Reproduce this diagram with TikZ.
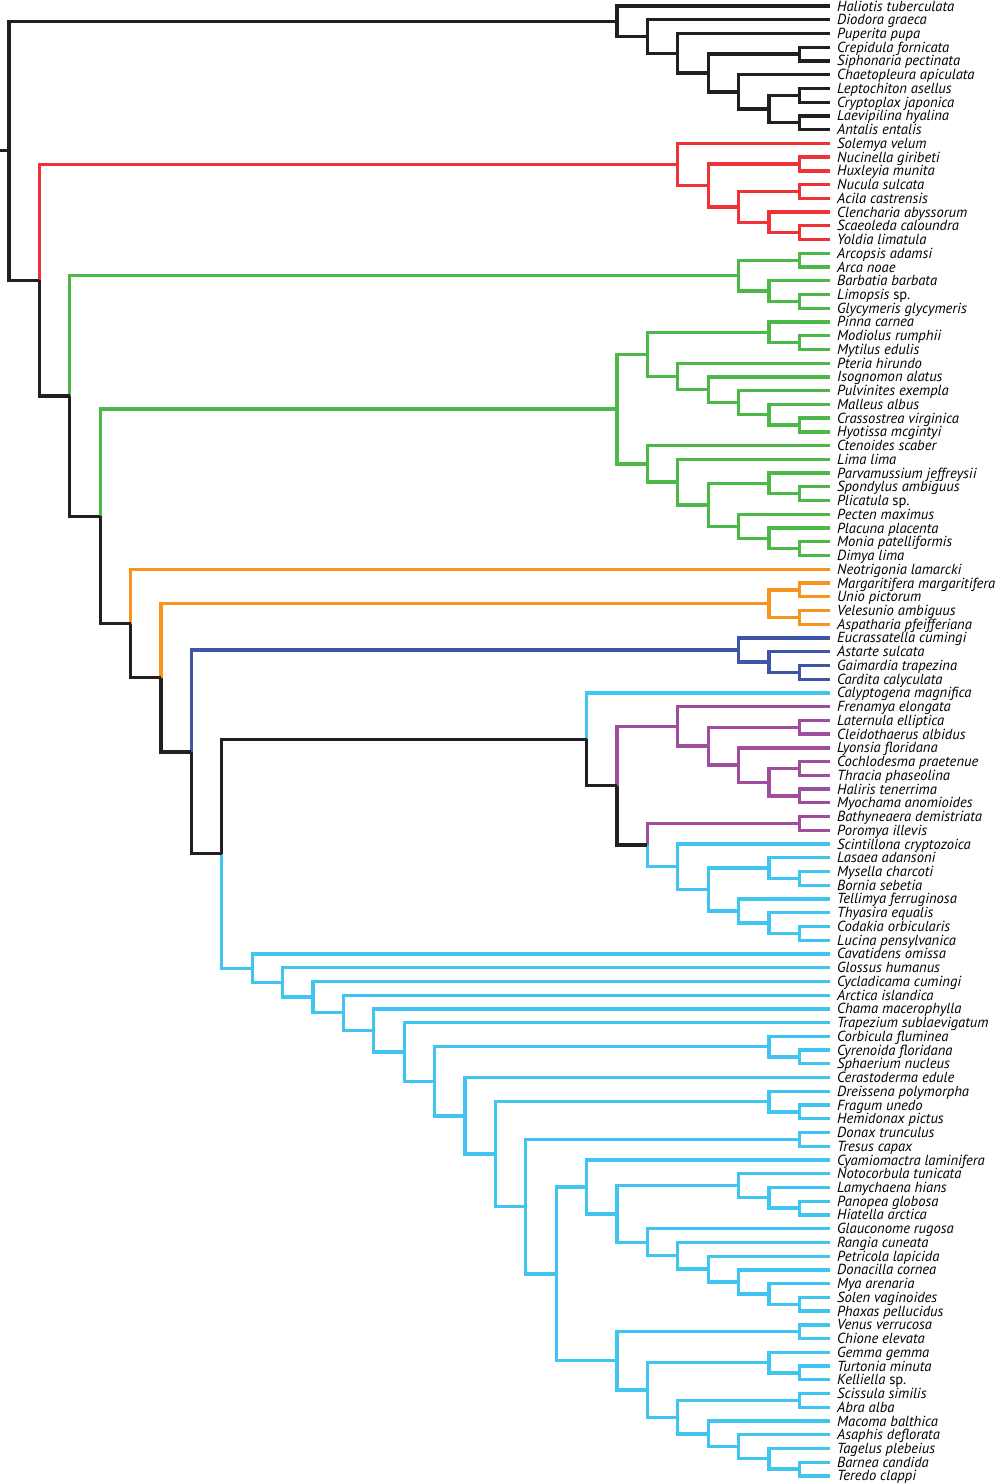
\documentclass[tikz,border=0pt]{standalone}
\usepackage{fontspec}
\setmainfont{PT Sans}
\usetikzlibrary{calc}
\definecolor{cblack}{HTML}{231F20}
\definecolor{cred}{HTML}{EE3237}
\definecolor{cgreen}{HTML}{4CB848}
\definecolor{corange}{HTML}{F7941E}
\definecolor{cblue}{HTML}{3F55A5}
\definecolor{ccyan}{HTML}{40C4F0}
\definecolor{cpurple}{HTML}{A14D9E}
\tikzset{
  br/.style={line width=3.3pt, line join=miter, line cap=butt},
  leaf/.style={font=\fontsize{14.6}{14.6}\selectfont\itshape, anchor=base west, inner sep=0pt, text=black}
}
\newcommand\mixclade[6]{%
  \path let \p1=(#3), \p2=(#5) in coordinate (#1) at ({9+30.4*#2},{0.5*(\y1+\y2)});
  \draw[br,#4] (#1) |- (#3);
  \draw[br,#6] (#1) |- (#5);
}
\newcommand\uniclade[5][cblack]{\mixclade{#2}{#3}{#4}{#1}{#5}{#1}}
\begin{document}
\begin{tikzpicture}[x=1pt,y=1pt]
\useasboundingbox (0,0) rectangle (1000,-1484);
\foreach \n [count=\i] in {Haliotis tuberculata, Diodora graeca, Puperita pupa, Crepidula fornicata, Siphonaria pectinata, Chaetopleura apiculata, Leptochiton asellus, Cryptoplax japonica, Laevipilina hyalina, Antalis entalis,
Solemya velum, Nucinella giribeti, Huxleyia munita, Nucula sulcata, Acila castrensis, Clencharia abyssorum, Scaeoleda caloundra, Yoldia limatula,
Arcopsis adamsi, Arca noae, Barbatia barbata, Limopsis \textup{sp.}, Glycymeris glycymeris, Pinna carnea, Modiolus rumphii, Mytilus edulis, Pteria hirundo, Isognomon alatus, Pulvinites exempla, Malleus albus, Crassostrea virginica, Hyotissa mcgintyi, Ctenoides scaber, Lima lima, Parvamussium jeffreysii, Spondylus ambiguus, Plicatula \textup{sp.}, Pecten maximus, Placuna placenta, Monia patelliformis, Dimya lima,
Neotrigonia lamarcki, Margaritifera margaritifera, Unio pictorum, Velesunio ambiguus, Aspatharia pfeifferiana,
Eucrassatella cumingi, Astarte sulcata, Gaimardia trapezina, Cardita calyculata,
Calyptogena magnifica, Frenamya elongata, Laternula elliptica, Cleidothaerus albidus, Lyonsia floridana, Cochlodesma praetenue, Thracia phaseolina, Haliris tenerrima, Myochama anomioides, Bathyneaera demistriata, Poromya illevis,
Scintillona cryptozoica, Lasaea adansoni, Mysella charcoti, Bornia sebetia, Tellimya ferruginosa, Thyasira equalis, Codakia orbicularis, Lucina pensylvanica,
Cavatidens omissa, Glossus humanus, Cycladicama cumingi, Arctica islandica, Chama macerophylla, Trapezium sublaevigatum, Corbicula fluminea, Cyrenoida floridana, Sphaerium nucleus, Cerastoderma edule, Dreissena polymorpha, Fragum unedo, Hemidonax pictus, Donax trunculus, Tresus capax, Cyamiomactra laminifera, Notocorbula tunicata, Lamychaena hians, Panopea globosa, Hiatella arctica, Glauconome rugosa, Rangia cuneata, Petricola lapicida, Donacilla cornea, Mya arenaria, Solen vaginoides, Phaxas pellucidus, Venus verrucosa, Chione elevata, Gemma gemma, Turtonia minuta, Kelliella \textup{sp.}, Scissula similis, Abra alba, Macoma balthica, Asaphis deflorata, Tagelus plebeius, Barnea candida, Teredo clappi}{
  \coordinate (l\i) at (830,{-6-13.738*(\i-1)});
  \node[leaf] (t\i) at ([xshift=7pt,yshift=-5pt]l\i) {\n};
}
% outgroup (black)
\uniclade{a26a}{26}{l4}{l5}
\uniclade{a26b}{26}{l7}{l8}
\uniclade{a26c}{26}{l9}{l10}
\uniclade{a25}{25}{a26b}{a26c}
\uniclade{a24}{24}{l6}{a25}
\uniclade{a23}{23}{a26a}{a24}
\uniclade{a22}{22}{l3}{a23}
\uniclade{a21}{21}{l2}{a22}
\uniclade{a20}{20}{l1}{a21}
% red
\uniclade[cred]{r26a}{26}{l12}{l13}
\uniclade[cred]{r26b}{26}{l14}{l15}
\uniclade[cred]{r26c}{26}{l17}{l18}
\uniclade[cred]{r25}{25}{l16}{r26c}
\uniclade[cred]{r24}{24}{r26b}{r25}
\uniclade[cred]{r23}{23}{r26a}{r24}
\uniclade[cred]{r22}{22}{l11}{r23}
% green 1
\uniclade[cgreen]{g26a}{26}{l19}{l20}
\uniclade[cgreen]{g26b}{26}{l22}{l23}
\uniclade[cgreen]{g25}{25}{l21}{g26b}
\uniclade[cgreen]{g24}{24}{g26a}{g25}
% green 2
\uniclade[cgreen]{h26a}{26}{l25}{l26}
\uniclade[cgreen]{h25a}{25}{l24}{h26a}
\uniclade[cgreen]{h26b}{26}{l31}{l32}
\uniclade[cgreen]{h25b}{25}{l30}{h26b}
\uniclade[cgreen]{h24}{24}{l29}{h25b}
\uniclade[cgreen]{h23}{23}{l28}{h24}
\uniclade[cgreen]{h22}{22}{l27}{h23}
\uniclade[cgreen]{h21}{21}{h25a}{h22}
\uniclade[cgreen]{i26a}{26}{l36}{l37}
\uniclade[cgreen]{i25a}{25}{l35}{i26a}
\uniclade[cgreen]{i26b}{26}{l40}{l41}
\uniclade[cgreen]{i25b}{25}{l39}{i26b}
\uniclade[cgreen]{i24}{24}{l38}{i25b}
\uniclade[cgreen]{i23}{23}{i25a}{i24}
\uniclade[cgreen]{i22}{22}{l34}{i23}
\uniclade[cgreen]{i21}{21}{l33}{i22}
\uniclade[cgreen]{h20}{20}{h21}{i21}
% orange
\uniclade[corange]{o26a}{26}{l43}{l44}
\uniclade[corange]{o26b}{26}{l45}{l46}
\uniclade[corange]{o25}{25}{o26a}{o26b}
% blue
\uniclade[cblue]{b26}{26}{l49}{l50}
\uniclade[cblue]{b25}{25}{l48}{b26}
\uniclade[cblue]{b24}{24}{l47}{b25}
% purple
\uniclade[cpurple]{p26a}{26}{l53}{l54}
\uniclade[cpurple]{p26b}{26}{l56}{l57}
\uniclade[cpurple]{p26c}{26}{l58}{l59}
\uniclade[cpurple]{p25}{25}{p26b}{p26c}
\uniclade[cpurple]{p24}{24}{l55}{p25}
\uniclade[cpurple]{p23}{23}{p26a}{p24}
\uniclade[cpurple]{p22}{22}{l52}{p23}
\uniclade[cpurple]{q26}{26}{l60}{l61}
% cyan small
\uniclade[ccyan]{m26a}{26}{l64}{l65}
\uniclade[ccyan]{m25a}{25}{l63}{m26a}
\uniclade[ccyan]{m26b}{26}{l68}{l69}
\uniclade[ccyan]{m25b}{25}{l67}{m26b}
\uniclade[ccyan]{m24}{24}{l66}{m25b}
\uniclade[ccyan]{m23}{23}{m25a}{m24}
\uniclade[ccyan]{m22}{22}{l62}{m23}
\mixclade{L21}{21}{q26}{cpurple}{m22}{ccyan}
\mixclade{K20}{20}{p22}{cpurple}{L21}{cblack}
\mixclade{I19}{19}{l51}{ccyan}{K20}{cblack}
% cyan large
\uniclade[ccyan]{c26a}{26}{l77}{l78}
\uniclade[ccyan]{c25a}{25}{l76}{c26a}
\uniclade[ccyan]{c26b}{26}{l81}{l82}
\uniclade[ccyan]{c25b}{25}{l80}{c26b}
\uniclade[ccyan]{c26c}{26}{l83}{l84}
\uniclade[ccyan]{c26d}{26}{l88}{l89}
\uniclade[ccyan]{c25d}{25}{l87}{c26d}
\uniclade[ccyan]{c24d}{24}{l86}{c25d}
\uniclade[ccyan]{c26e}{26}{l95}{l96}
\uniclade[ccyan]{c25e}{25}{l94}{c26e}
\uniclade[ccyan]{c24e}{24}{l93}{c25e}
\uniclade[ccyan]{c23e}{23}{l92}{c24e}
\uniclade[ccyan]{c22e}{22}{l91}{c23e}
\uniclade[ccyan]{c21e}{21}{l90}{c22e}
\uniclade[ccyan]{c20a}{20}{c24d}{c21e}
\uniclade[ccyan]{c19}{19}{l85}{c20a}
\uniclade[ccyan]{c26f}{26}{l97}{l98}
\uniclade[ccyan]{c26g}{26}{l100}{l101}
\uniclade[ccyan]{c25g}{25}{l99}{c26g}
\uniclade[ccyan]{c26h}{26}{l102}{l103}
\uniclade[ccyan]{c26i}{26}{l107}{l108}
\uniclade[ccyan]{c25i}{25}{l106}{c26i}
\uniclade[ccyan]{c24i}{24}{l105}{c25i}
\uniclade[ccyan]{c23i}{23}{l104}{c24i}
\uniclade[ccyan]{c22i}{22}{c26h}{c23i}
\uniclade[ccyan]{c21i}{21}{c25g}{c22i}
\uniclade[ccyan]{c20b}{20}{c26f}{c21i}
\uniclade[ccyan]{c18}{18}{c19}{c20b}
\uniclade[ccyan]{c17}{17}{c26c}{c18}
\uniclade[ccyan]{c16}{16}{c25b}{c17}
\uniclade[ccyan]{c15}{15}{l79}{c16}
\uniclade[ccyan]{c14}{14}{c25a}{c15}
\uniclade[ccyan]{c13}{13}{l75}{c14}
\uniclade[ccyan]{c12}{12}{l74}{c13}
\uniclade[ccyan]{c11}{11}{l73}{c12}
\uniclade[ccyan]{c10}{10}{l72}{c11}
\uniclade[ccyan]{c9}{9}{l71}{c10}
\uniclade[ccyan]{c8}{8}{l70}{c9}
% backbone
\mixclade{H}{7}{I19}{cblack}{c8}{ccyan}
\mixclade{G}{6}{b24}{cblue}{H}{cblack}
\mixclade{F}{5}{o25}{corange}{G}{cblack}
\mixclade{E}{4}{l42}{corange}{F}{cblack}
\mixclade{D}{3}{h20}{cgreen}{E}{cblack}
\mixclade{C}{2}{g24}{cgreen}{D}{cblack}
\mixclade{B}{1}{r22}{cred}{C}{cblack}
\mixclade{root}{0}{a20}{cblack}{B}{cblack}
\coordinate (stub) at ([xshift=-9pt]root);
\draw[br,cblack] (root) -- (stub);
\end{tikzpicture}
\end{document}
